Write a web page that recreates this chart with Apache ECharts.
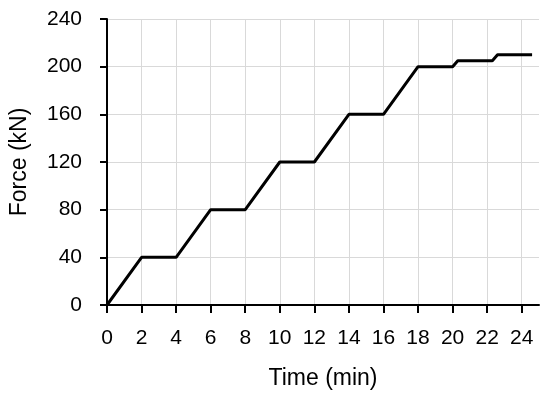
<!DOCTYPE html>
<html>
<head>
<meta charset="utf-8">
<script src="https://cdn.jsdelivr.net/npm/echarts@6/dist/echarts.min.js"></script>
<style>html,body{margin:0;padding:0;background:#fff}#c{width:550px;height:397px}</style>
</head>
<body>
<div id="c"></div>
<script>
var timeMin = [0, 2, 4, 6, 8, 10, 12, 14, 16, 18, 20, 20.3, 22.3, 22.6, 24.6];
var forceKN = [0, 40, 40, 80, 80, 120, 120, 160, 160, 200, 200, 205, 205, 210, 210];
var xTicks = [0, 2, 4, 6, 8, 10, 12, 14, 16, 18, 20, 22, 24];
var yTicks = [0, 40, 80, 120, 160, 200, 240];

var chart = echarts.init(document.getElementById('c'));
var font = 'Liberation Sans, Arial, sans-serif';
chart.setOption({
  animation: false,
  grid: {left: 105, top: 19, right: 11, bottom: 92, containLabel: false},
  xAxis: {
    type: 'value', min: 0, max: 25, interval: 2,
    name: 'Time (min)', nameLocation: 'middle', nameGap: 62,
    nameTextStyle: {fontFamily: font, fontSize: 23, color: '#000'},
    axisLine: {lineStyle: {color: '#000', width: 2}},
    axisTick: {show: true, length: 8, lineStyle: {color: '#000', width: 2}, customValues: xTicks},
    axisLabel: {fontFamily: font, fontSize: 21, color: '#000', margin: 23, customValues: xTicks},
    splitLine: {show: true, lineStyle: {color: '#d9d9d9', width: 1}}
  },
  yAxis: {
    type: 'value', min: 0, max: 240, interval: 40,
    name: 'Force (kN)', nameLocation: 'middle', nameGap: 76,
    nameTextStyle: {fontFamily: font, fontSize: 23, color: '#000'},
    axisLine: {show: true, lineStyle: {color: '#000', width: 2}},
    axisTick: {show: true, length: 7, lineStyle: {color: '#000', width: 2}},
    axisLabel: {fontFamily: font, fontSize: 21, color: '#000', margin: 25},
    splitLine: {show: true, lineStyle: {color: '#d9d9d9', width: 1}}
  },
  series: [{
    type: 'line',
    data: timeMin.map(function (t, i) { return [t, forceKN[i]]; }),
    showSymbol: false,
    lineStyle: {color: '#000', width: 3},
    itemStyle: {color: '#000'}
  }]
});
</script>
</body>
</html>
